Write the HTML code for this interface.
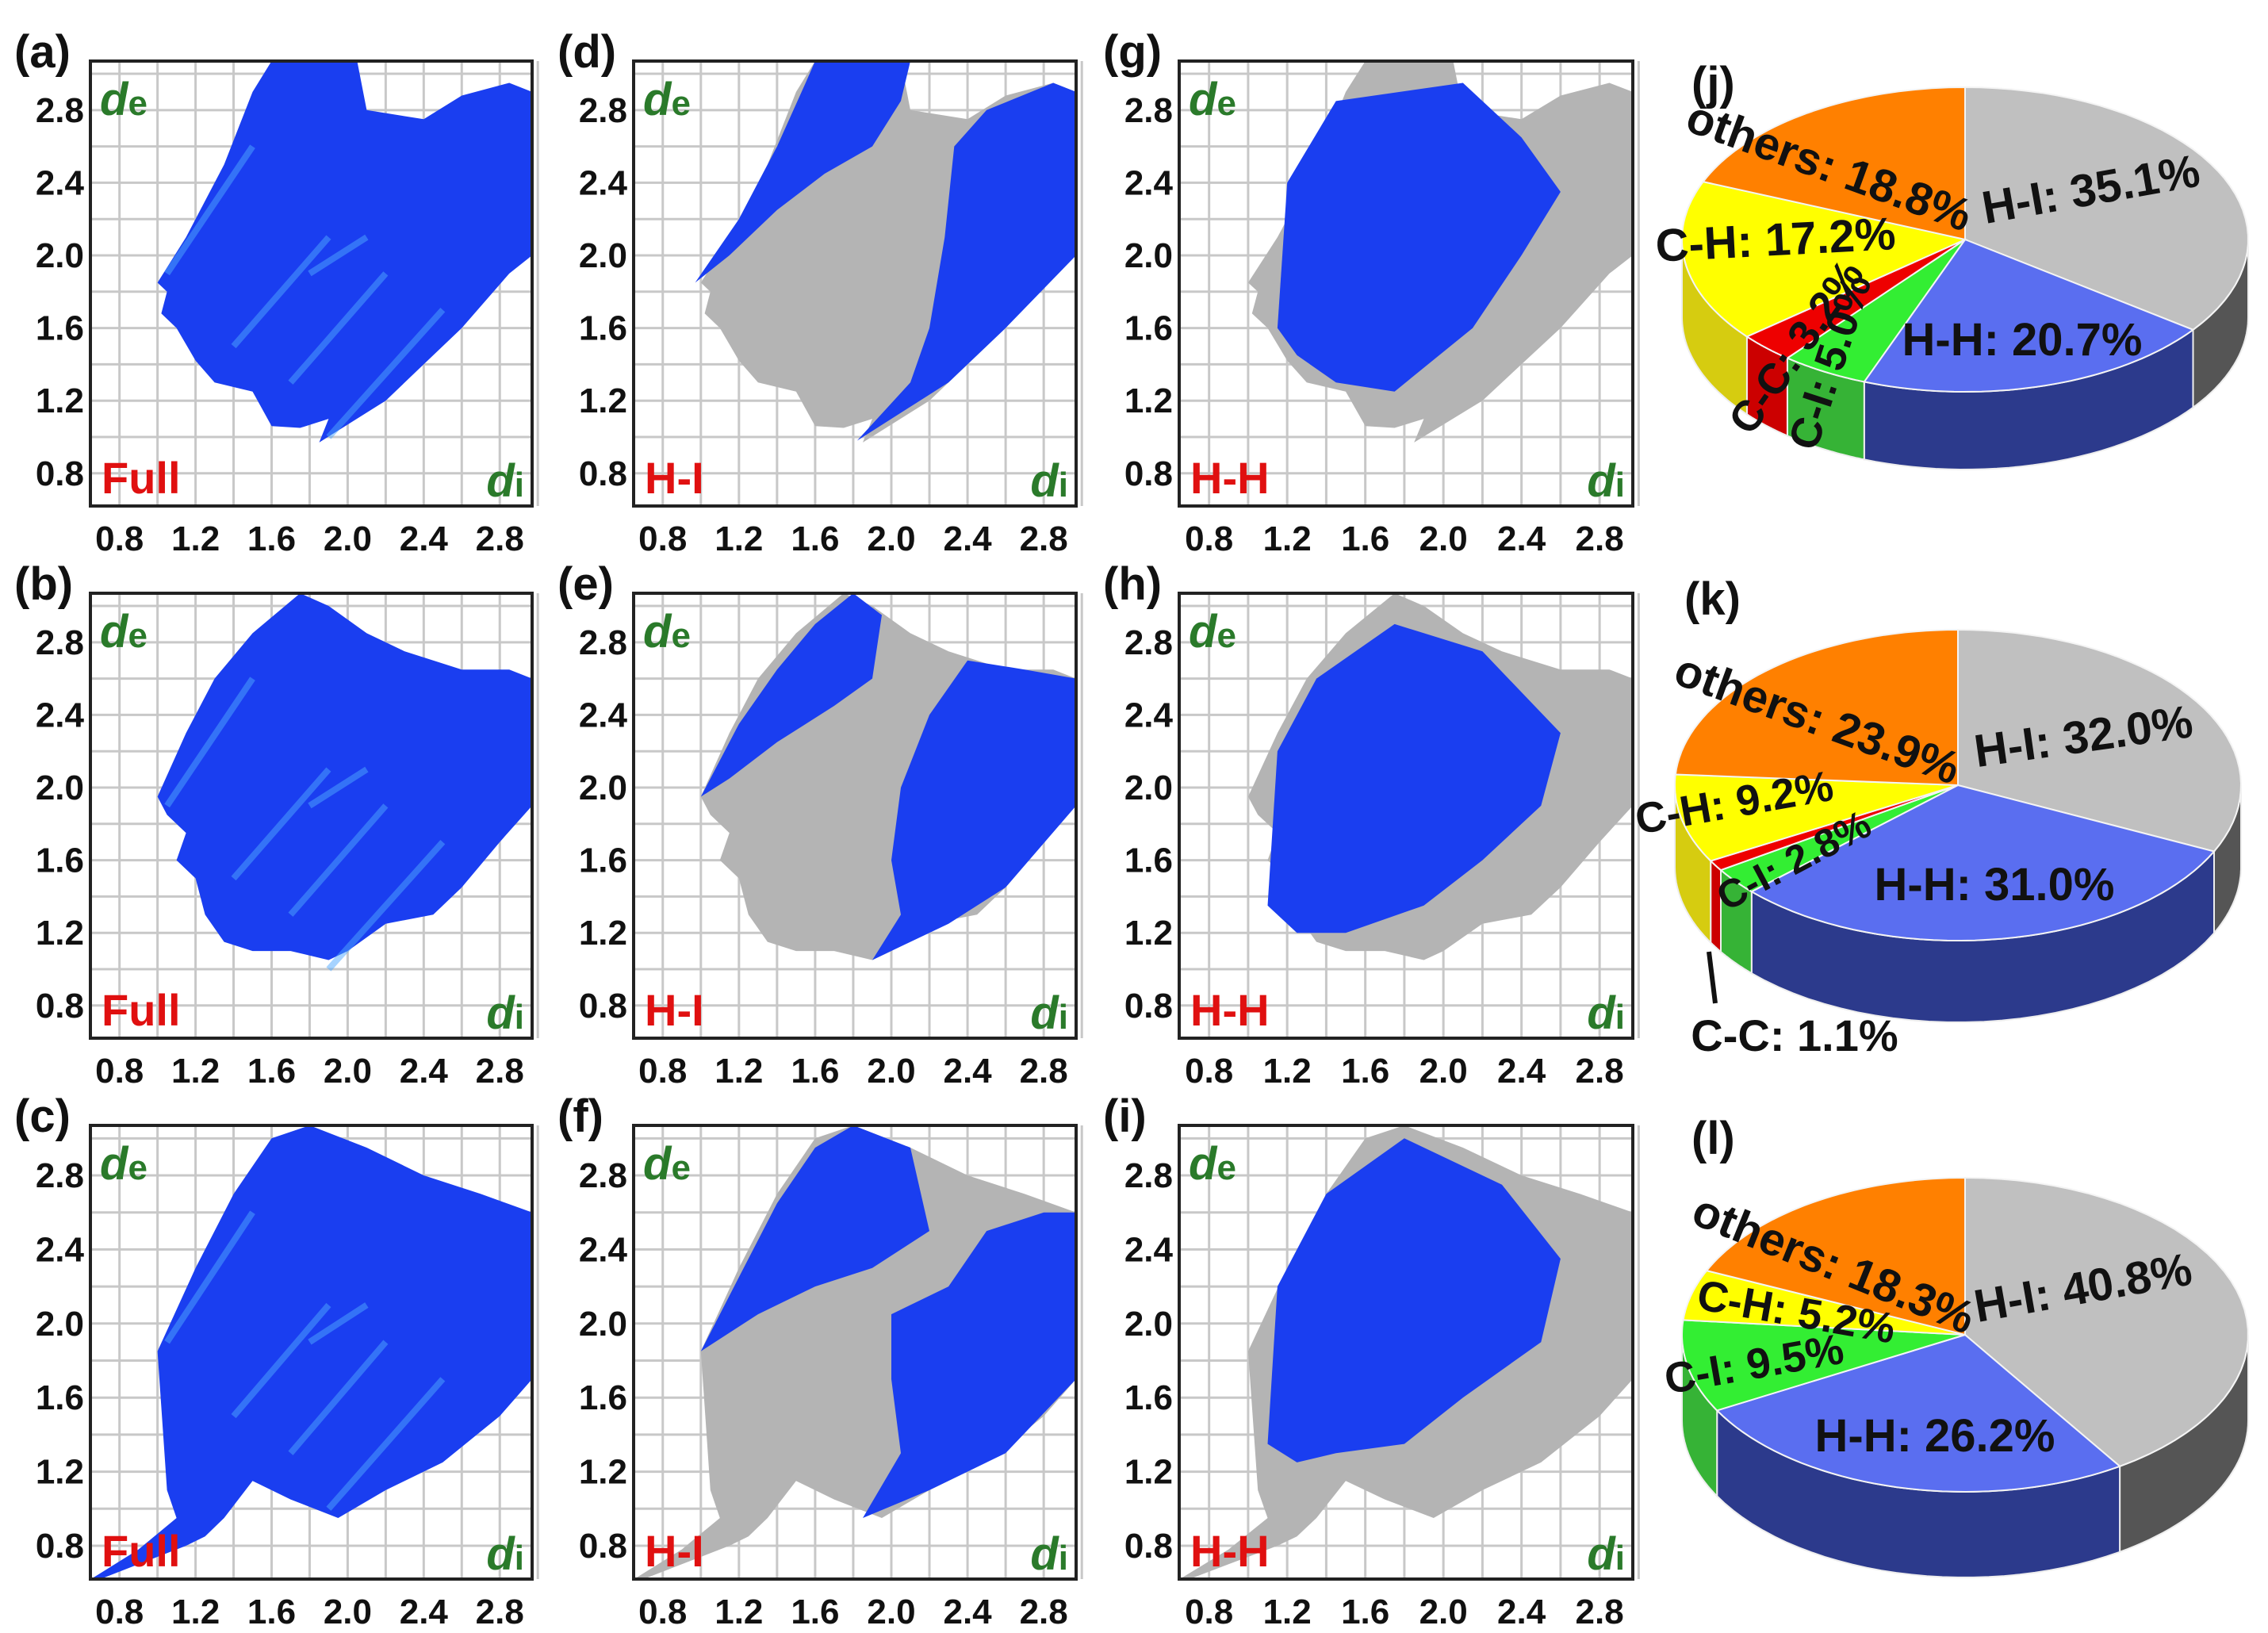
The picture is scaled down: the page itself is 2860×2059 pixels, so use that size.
<!DOCTYPE html>
<html><head><meta charset="utf-8"><style>
html,body{margin:0;padding:0;background:#fff;}
svg{display:block;font-family:"Liberation Sans",Arial,sans-serif;}
</style></head><body>
<svg id="fig" width="2860" height="2059" viewBox="0 0 2860 2059" xmlns="http://www.w3.org/2000/svg"></svg>
<script>
// ---------- data ----------
const xTicks = [0.8, 1.2, 1.6, 2.0, 2.4, 2.8];
const yTicks = [0.8, 1.2, 1.6, 2.0, 2.4, 2.8];
const xTickLabels = ["0.8","1.2","1.6","2.0","2.4","2.8"];
const yTickLabels = ["0.8","1.2","1.6","2.0","2.4","2.8"];
const panelLetters = ["(a)","(d)","(g)","(b)","(e)","(h)","(c)","(f)","(i)"];
const panelTypes = ["Full","H-I","H-H"];
const fullShape1 = [[1.0,1.85],[1.15,2.1],[1.35,2.5],[1.5,2.9],[1.6,3.07],[2.05,3.07],[2.1,2.8],[2.4,2.75],[2.6,2.88],[2.85,2.95],[2.97,2.9],[2.97,2.0],[2.85,1.9],[2.6,1.6],[2.4,1.4],[2.2,1.2],[1.85,0.97],[1.9,1.1],[1.75,1.05],[1.6,1.06],[1.5,1.25],[1.3,1.3],[1.2,1.42],[1.1,1.6],[1.02,1.68],[1.05,1.8]];
const fullShape2 = [[1.0,1.95],[1.15,2.3],[1.3,2.6],[1.5,2.85],[1.75,3.07],[1.9,3.0],[2.1,2.85],[2.3,2.75],[2.6,2.65],[2.85,2.65],[2.97,2.6],[2.97,1.9],[2.8,1.7],[2.6,1.45],[2.45,1.3],[2.2,1.25],[2.0,1.1],[1.9,1.05],[1.7,1.1],[1.5,1.1],[1.35,1.15],[1.25,1.3],[1.2,1.5],[1.1,1.6],[1.15,1.75],[1.05,1.85]];
const fullShape3 = [[0.65,0.62],[0.9,0.78],[1.1,0.95],[1.05,1.1],[1.0,1.85],[1.2,2.3],[1.4,2.7],[1.6,3.0],[1.8,3.07],[2.1,2.95],[2.4,2.8],[2.7,2.7],[2.97,2.6],[2.97,1.7],[2.8,1.5],[2.5,1.25],[2.2,1.1],[1.95,0.95],[1.7,1.05],[1.5,1.15],[1.35,0.95],[1.25,0.85],[1.15,0.8],[0.9,0.7],[0.7,0.62]];
const hiLeft1 = [[0.97,1.85],[1.2,2.2],[1.4,2.6],[1.55,2.95],[1.6,3.07],[2.1,3.07],[2.05,2.85],[1.9,2.6],[1.65,2.45],[1.4,2.25],[1.15,2.0]];
const hiRight1 = [[1.82,0.98],[2.1,1.3],[2.2,1.6],[2.28,2.1],[2.33,2.6],[2.5,2.8],[2.85,2.95],[2.97,2.9],[2.97,2.0],[2.6,1.6],[2.3,1.3]];
const hiLeft2 = [[1.0,1.95],[1.2,2.35],[1.4,2.65],[1.6,2.9],[1.8,3.07],[1.95,2.95],[1.9,2.6],[1.7,2.45],[1.4,2.25],[1.15,2.05]];
const hiRight2 = [[1.9,1.05],[2.05,1.3],[2.0,1.6],[2.05,2.0],[2.2,2.4],[2.4,2.7],[2.7,2.65],[2.97,2.6],[2.97,1.9],[2.6,1.45],[2.3,1.25]];
const hiLeft3 = [[1.0,1.85],[1.2,2.25],[1.4,2.65],[1.6,2.95],[1.8,3.07],[2.1,2.95],[2.2,2.5],[1.9,2.3],[1.6,2.2],[1.3,2.05]];
const hiRight3 = [[1.85,0.95],[2.05,1.3],[2.0,1.7],[2.0,2.05],[2.3,2.2],[2.5,2.5],[2.8,2.6],[2.97,2.6],[2.97,1.7],[2.6,1.3],[2.2,1.1]];
const hhShape1 = [[1.15,1.6],[1.2,2.4],[1.45,2.85],[2.1,2.95],[2.4,2.65],[2.6,2.35],[2.4,2.0],[2.15,1.6],[1.75,1.25],[1.45,1.3],[1.25,1.45]];
const hhShape2 = [[1.1,1.35],[1.15,2.2],[1.35,2.6],[1.75,2.9],[2.2,2.75],[2.6,2.3],[2.5,1.9],[2.2,1.6],[1.9,1.35],[1.5,1.2],[1.25,1.2]];
const hhShape3 = [[1.1,1.35],[1.15,2.2],[1.4,2.7],[1.8,3.0],[2.3,2.75],[2.6,2.35],[2.5,1.9],[2.1,1.6],[1.8,1.35],[1.45,1.3],[1.25,1.25]];
const pieLabels1 = ["H-I","H-H","C-I","C-C","C-H","others"];
const pieValues1 = [35.1,20.7,5.0,3.2,17.2,18.8];
const pieLabels2 = ["H-I","H-H","C-I","C-C","C-H","others"];
const pieValues2 = [32.0,31.0,2.8,1.1,9.2,23.9];
const pieLabels3 = ["H-I","H-H","C-I","C-H","others"];
const pieValues3 = [40.8,26.2,9.5,5.2,18.3];

// ---------- helpers ----------
const NS="http://www.w3.org/2000/svg";
const svg=document.getElementById('fig');
function mk(tag,attrs,parent){const e=document.createElementNS(NS,tag);for(const k in attrs)e.setAttribute(k,attrs[k]);(parent||svg).appendChild(e);return e;}
const X0=0.647,X1=2.97,Y0=0.62,Y1=3.07;
const colX=[114,799,1487];
const rowY=[77,748,1419];
const boxW=[557,558,572];
const boxH=[561,561,572];

function drawPanel(ci,ri){
  const bx=colX[ci],by=rowY[ri],w=boxW[ci],h=boxH[ri];
  const sx=v=>bx+(v-X0)/(X1-X0)*w;
  const sy=v=>by+h-(v-Y0)/(Y1-Y0)*h;
  const g=mk('g',{});
  
  
  const cp=mk('clipPath',{id:'clip'+ci+ri},g);
  mk('rect',{x:bx,y:by,width:w,height:h},cp);
  for(let v=0.8;v<=3.01;v+=0.2){
    const l=mk('line',{x1:sx(v),x2:sx(v),y1:by,y2:by+h,stroke:'#c8c8c8','stroke-width':3},g);
    
    const l2=mk('line',{x1:bx,x2:bx+w,y1:sy(v),y2:sy(v),stroke:'#c8c8c8','stroke-width':3},g);
    
  }
  const full=[fullShape1,fullShape2,fullShape3][ri];
  const pts=a=>a.map(p=>sx(p[0]).toFixed(1)+','+sy(p[1]).toFixed(1)).join(' ');
  const cg=mk('g',{'clip-path':'url(#clip'+ci+ri+')'},g);
  if(ci===0){
    const p=mk('polygon',{points:pts(full),fill:'#1a3ef0'},cg);
    
    const strk=[[[1.05,1.9],[1.5,2.6]],[[1.4,1.5],[1.9,2.1]],[[1.7,1.3],[2.2,1.9]],[[1.9,1.0],[2.5,1.7]],[[1.8,1.9],[2.1,2.1]]];
    strk.forEach(s=>{const l=mk('line',{x1:sx(s[0][0]),y1:sy(s[0][1]),x2:sx(s[1][0]),y2:sy(s[1][1]),stroke:'#4fa8ff','stroke-width':8,opacity:0.5},cg);
      });
  } else {
    const p=mk('polygon',{points:pts(full),fill:'#b4b4b4'},cg);
    
    const shapes = ci===1 ? [[hiLeft1,hiRight1],[hiLeft2,hiRight2],[hiLeft3,hiRight3]][ri] : [[hhShape1],[hhShape2],[hhShape3]][ri];
    shapes.forEach(s=>{const q=mk('polygon',{points:pts(s),fill:'#1a3ef0'},cg);
      });
  }
  const box=mk('rect',{x:bx,y:by,width:w,height:h,fill:'none',stroke:'#222','stroke-width':4},g);
  
  yTicks.forEach((v,i)=>{const t=mk('text',{x:bx-8,y:sy(v)+15,'text-anchor':'end','font-size':44,'font-weight':'bold',fill:'#111'},g);
    t.textContent=yTickLabels[i];});
  xTicks.forEach((v,i)=>{const t=mk('text',{x:sx(v),y:by+h+56,'text-anchor':'middle','font-size':44,'font-weight':'bold',fill:'#111'},g);
    t.textContent=xTickLabels[i];});
  const pl=mk('text',{x:bx-96,y:by+8,'font-size':58,'font-weight':'bold',fill:'#111'},g);
  pl.textContent=panelLetters[ri*3+ci];
  const de=mk('text',{x:bx+12,y:by+68,'font-size':58,'font-weight':'bold','font-style':'italic',fill:'#2a7a2a'},g);
  de.innerHTML='d<tspan font-size="44" font-style="normal">e</tspan>';
  const di=mk('text',{x:bx+w-10,y:by+h-12,'text-anchor':'end','font-size':58,'font-weight':'bold','font-style':'italic',fill:'#2a7a2a'},g);
  di.innerHTML='d<tspan font-size="44" font-style="normal">i</tspan>';
  const ty=mk('text',{x:bx+14,y:by+h-16,'font-size':56,'font-weight':'bold',fill:'#e01010'},g);
  ty.textContent=panelTypes[ci];
}
for(let r=0;r<3;r++)for(let c=0;c<3;c++)drawPanel(c,r);

// ---------- 3D pies ----------
const topColors={"H-I":"#c0c0c0","H-H":"#5a6ef0","C-I":"#33ee33","C-C":"#ee0000","C-H":"#ffff00","others":"#ff8000"};
const sideColors={"H-I":"#555555","H-H":"#2c3a8c","C-I":"#36b336","C-C":"#cc0000","C-H":"#d6cc10","others":"#d06800"};
function drawPie(labels,values,cx,cy,rx,ry,depth,letter,ly,labelSpecs){
  const g=mk('g',{});
  
  const P=(a,dy)=>[cx+rx*Math.sin(a),cy-ry*Math.cos(a)+(dy||0)];
  const total=values.reduce((s,v)=>s+v,0);
  let acc=0;const segs=values.map((v,i)=>{const a0=acc/total*2*Math.PI;acc+=v;return [a0,acc/total*2*Math.PI,labels[i]];});
  segs.forEach(s=>{
    const a=Math.max(s[0],Math.PI/2),b=Math.min(s[1],3*Math.PI/2);
    if(b<=a)return;
    const N=30;let d='';
    for(let k=0;k<=N;k++){const p=P(a+(b-a)*k/N);d+=(k?'L':'M')+p[0].toFixed(1)+','+p[1].toFixed(1);}
    for(let k=N;k>=0;k--){const p=P(a+(b-a)*k/N,depth);d+='L'+p[0].toFixed(1)+','+p[1].toFixed(1);}
    const e=mk('path',{d:d+'Z',fill:sideColors[s[2]],stroke:'#eee','stroke-width':2},g);
    
  });
  segs.forEach(s=>{
    const N=40;let d='M'+cx+','+cy;
    for(let k=0;k<=N;k++){const p=P(s[0]+(s[1]-s[0])*k/N);d+='L'+p[0].toFixed(1)+','+p[1].toFixed(1);}
    const e=mk('path',{d:d+'Z',fill:topColors[s[2]],stroke:'#f4f4f4','stroke-width':2},g);
    
  });
  const pl=mk('text',{x:cx-345,y:ly,'font-size':58,'font-weight':'bold',fill:'#111'},g);
  pl.textContent=letter;
  labelSpecs.forEach(sp=>{
    const i=labels.indexOf(sp[0]);
    const t=mk('text',{x:sp[1],y:sp[2],'text-anchor':'middle','font-size':sp[4]||58,'font-weight':'bold',fill:'#111',transform:'rotate('+sp[3]+' '+sp[1]+' '+sp[2]+')'},g);
    t.textContent=labels[i]+': '+values[i].toFixed(1)+'%';
    
  });
}
drawPie(pieLabels1,pieValues1,2478,302,357,192,98,"(j)",125,[
  ["others",2300,228,20],["H-I",2640,258,-10],["C-H",2240,322,-3],["C-C",2280,448,-55,54],["C-I",2325,462,-72,54],["H-H",2550,448,0]]);
drawPie(pieLabels2,pieValues2,2469,990,357,196,103,"(k)",775,[
  ["others",2285,925,20],["H-I",2630,948,-8],["C-H",2190,1030,-10,54],["C-I",2270,1100,-28,50],["H-H",2515,1135,0]]);
(function(){const l=mk('line',{x1:2155,y1:1200,x2:2163,y2:1265,stroke:'#111','stroke-width':6});
  
  const t=mk('text',{x:2263,y:1325,'text-anchor':'middle','font-size':56,'font-weight':'bold',fill:'#111'});
  t.textContent=pieLabels2[3]+': '+pieValues2[3].toFixed(1)+'%';})();
drawPie(pieLabels3,pieValues3,2478,1683,357,198,108,"(l)",1455,[
  ["others",2305,1612,22],["H-I",2630,1643,-10],["C-H",2262,1672,10,54],["C-I",2215,1738,-10,54],["H-H",2440,1830,0]]);
</script>
</body></html>
